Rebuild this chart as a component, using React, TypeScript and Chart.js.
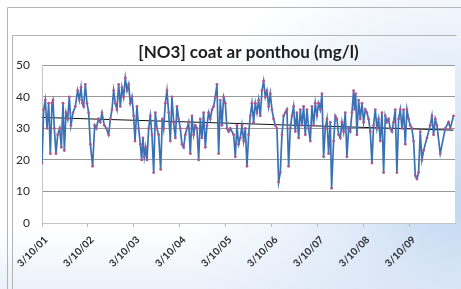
import React, { useEffect, useRef } from "react";
import { Chart, registerables } from "chart.js";

Chart.register(...registerables);

const TITLE = "[NO3] coat ar ponthou (mg/l)";
const xTickLabels = ["3/10/01", "3/10/02", "3/10/03", "3/10/04", "3/10/05", "3/10/06", "3/10/07", "3/10/08", "3/10/09"];
const yTicks = [0, 10, 20, 30, 40, 50];

// sample dates, in years after 3/10/01
const sampleYears = [
  0.0, 0.036, 0.072, 0.109, 0.145, 0.181, 0.217, 0.239, 0.268, 0.304, 0.341, 0.384, 0.42, 0.457, 0.486, 0.522, 0.558, 0.594, 0.63, 0.674,
  0.725, 0.775, 0.812, 0.848, 0.877, 0.906, 0.942, 0.978, 1.014, 1.051, 1.101, 1.145, 1.181, 1.225, 1.268, 1.304, 1.355, 1.399, 1.449, 1.486,
  1.522, 1.558, 1.594, 1.63, 1.667, 1.703, 1.739, 1.775, 1.812, 1.848, 1.884, 1.92, 1.957, 1.993, 2.022, 2.065, 2.101, 2.138, 2.167, 2.196,
  2.225, 2.254, 2.283, 2.319, 2.355, 2.391, 2.428, 2.464, 2.5, 2.536, 2.58, 2.616, 2.645, 2.681, 2.717, 2.754, 2.79, 2.826, 2.862, 2.899,
  2.935, 2.971, 3.007, 3.043, 3.08, 3.116, 3.152, 3.188, 3.225, 3.261, 3.297, 3.333, 3.37, 3.406, 3.442, 3.478, 3.514, 3.551, 3.587, 3.623,
  3.659, 3.696, 3.732, 3.768, 3.804, 3.841, 3.877, 3.913, 3.949, 3.986, 4.022, 4.058, 4.094, 4.167, 4.203, 4.239, 4.275, 4.312, 4.348, 4.384,
  4.42, 4.457, 4.493, 4.529, 4.565, 4.601, 4.638, 4.674, 4.71, 4.746, 4.783, 4.819, 4.855, 4.891, 4.928, 4.964, 5.0, 5.036, 5.072, 5.109,
  5.145, 5.181, 5.217, 5.254, 5.29, 5.326, 5.362, 5.399, 5.435, 5.471, 5.507, 5.543, 5.58, 5.616, 5.652, 5.688, 5.725, 5.761, 5.797, 5.833,
  5.87, 5.906, 5.942, 5.978, 6.014, 6.051, 6.087, 6.123, 6.159, 6.196, 6.232, 6.268, 6.297, 6.341, 6.377, 6.413, 6.449, 6.486, 6.522, 6.558,
  6.594, 6.63, 6.667, 6.703, 6.739, 6.775, 6.797, 6.819, 6.848, 6.884, 6.92, 6.957, 6.993, 7.029, 7.065, 7.101, 7.138, 7.174, 7.21, 7.246,
  7.283, 7.319, 7.355, 7.391, 7.428, 7.464, 7.5, 7.536, 7.572, 7.609, 7.645, 7.681, 7.717, 7.754, 7.79, 7.826, 7.862, 7.899, 7.935, 7.971,
  8.007, 8.043, 8.08, 8.116, 8.152, 8.188, 8.225, 8.261, 8.297, 8.37, 8.442, 8.478, 8.514, 8.551, 8.587, 8.659, 8.768, 8.841, 8.877, 8.949,
];

// [NO3] in mg/l
const no3Values = [
  19, 36, 39, 30, 38, 22, 38, 39, 30, 22, 28, 30, 24, 38, 23, 35, 33, 40, 31, 35,
  37, 42, 39, 43, 38, 37, 44, 38, 35, 25, 18, 31, 30, 33, 32, 35, 31, 30, 28, 33,
  36, 42, 38, 36, 44, 37, 43, 40, 46, 42, 44, 38, 40, 34, 26, 37, 30, 25, 20, 27,
  21, 24, 20, 30, 34, 28, 16, 35, 30, 28, 17, 33, 30, 38, 42, 35, 26, 40, 32, 27,
  37, 33, 30, 25, 24, 28, 30, 32, 22, 34, 28, 31, 30, 20, 33, 27, 35, 24, 31, 35,
  33, 36, 37, 40, 44, 22, 39, 31, 40, 38, 30, 29, 30, 28, 21, 31, 25, 27, 31, 26,
  30, 18, 28, 34, 38, 32, 38, 35, 39, 34, 42, 45, 40, 42, 37, 41, 36, 33, 31, 30,
  13, 16, 28, 34, 35, 36, 18, 30, 34, 37, 29, 35, 27, 36, 31, 37, 28, 36, 30, 26,
  37, 31, 38, 34, 38, 36, 41, 21, 30, 33, 22, 32, 11, 26, 34, 33, 28, 27, 32, 29,
  35, 21, 30, 29, 35, 42, 36, 41, 28, 39, 33, 38, 32, 36, 35, 33, 29, 19, 31, 36,
  30, 33, 26, 35, 16, 34, 32, 33, 30, 29, 32, 36, 16, 33, 36, 30, 36, 25, 36, 33,
  31, 30, 26, 15, 14, 16, 29, 20, 23, 27, 31, 34, 28, 33, 31, 22, 30, 32, 30, 34,
];

const framePlugin = {
  id: "frame",
  beforeDraw(chart: any) {
    const ctx = chart.ctx as CanvasRenderingContext2D;
    const w = chart.width;
    const h = chart.height;
    ctx.save();
    ctx.fillStyle = "#ffffff";
    ctx.fillRect(0, 0, w, h);
    const g = ctx.createRadialGradient(w, h * 0.7, 10, w, h * 0.7, 280);
    g.addColorStop(0, "rgba(170,200,235,0.7)");
    g.addColorStop(1, "rgba(200,220,245,0)");
    ctx.fillStyle = g;
    ctx.fillRect(0, 0, w, h);
    const g2 = ctx.createLinearGradient(0, 225, 0, h);
    g2.addColorStop(0, "rgba(215,228,245,0)");
    g2.addColorStop(1, "rgba(215,228,245,0.5)");
    ctx.fillStyle = g2;
    ctx.fillRect(0, 225, w, h - 225);
    ctx.strokeStyle = "#b4b4b4";
    ctx.lineWidth = 1;
    ctx.beginPath();
    ctx.moveTo(7.5, h);
    ctx.lineTo(7.5, 7.5);
    ctx.lineTo(w, 7.5);
    ctx.moveTo(12.5, h);
    ctx.lineTo(12.5, 35.5);
    ctx.lineTo(456.5, 35.5);
    ctx.stroke();
    const ca = chart.chartArea;
    ctx.fillStyle = "#ffffff";
    ctx.fillRect(ca.left, ca.top, ca.right - ca.left, ca.bottom - ca.top);
    ctx.restore();
  },
};

export default function App() {
  const ref = useRef<HTMLCanvasElement>(null);

  useEffect(() => {
    const n = sampleYears.length;
    let sx = 0, sy = 0, sxx = 0, sxy = 0;
    for (let i = 0; i < n; i++) {
      sx += sampleYears[i];
      sy += no3Values[i];
      sxx += sampleYears[i] * sampleYears[i];
      sxy += sampleYears[i] * no3Values[i];
    }
    const slope = (n * sxy - sx * sy) / (n * sxx - sx * sx);
    const intercept = (sy - slope * sx) / n;
    const x0 = sampleYears[0];
    const x1 = sampleYears[n - 1];

    const chart = new Chart(ref.current!, {
      type: "line",
      data: {
        datasets: [
          {
            data: sampleYears.map((x, i) => ({ x, y: no3Values[i] })),
            borderColor: "#3a71b5",
            borderWidth: 1.7,
            pointRadius: 1.4,
            pointBackgroundColor: "#b0588e",
            pointBorderWidth: 0,
            tension: 0,
          },
          {
            data: [
              { x: x0, y: intercept + slope * x0 },
              { x: x1, y: intercept + slope * x1 },
            ],
            borderColor: "#111111",
            borderWidth: 1,
            pointRadius: 0,
            tension: 0,
          },
        ],
      },
      options: {
        responsive: false,
        animation: false,
        layout: { padding: { left: 14, right: 6, top: 38, bottom: 0 } },
        plugins: {
          legend: { display: false },
          tooltip: { enabled: false },
          title: {
            display: true,
            fullSize: false,
            text: TITLE,
            color: "#1e1e1e",
            font: { family: "Lato", size: 17, weight: "bold" },
            padding: { top: 4, bottom: 3 },
          },
        },
        scales: {
          x: {
            type: "linear",
            min: 0,
            max: 8.98,
            afterBuildTicks: (s: any) => {
              s.ticks = xTickLabels.map((_, i) => ({ value: i }));
            },
            afterFit: (s: any) => {
              s.height = 66;
            },
            ticks: {
              autoSkip: false,
              minRotation: 45,
              maxRotation: 45,
              padding: 7,
              labelOffset: 4,
              color: "#2a2a2a",
              font: { family: "Lato", size: 10, weight: "bold" },
              callback: (v: any) => xTickLabels[Math.round(Number(v))] ?? "",
            },
            grid: { drawOnChartArea: false, drawTicks: true, tickLength: 4, color: "#bdbdbd" },
            border: { color: "#c4c4c4" },
          },
          y: {
            min: 0,
            max: 50,
            afterBuildTicks: (s: any) => {
              s.ticks = yTicks.map((v) => ({ value: v }));
            },
            afterFit: (s: any) => {
              s.width = 28;
            },
            ticks: {
              padding: 12,
              color: "#2a2a2a",
              font: { family: "Lato", size: 12 },
            },
            grid: { color: "#9a9a9a", drawTicks: false },
            border: { color: "#c4c4c4" },
          },
        },
      },
      plugins: [framePlugin],
    });
    return () => chart.destroy();
  }, []);

  return (
    <canvas
      ref={ref}
      width={461}
      height={289}
      style={{ position: "fixed", left: 0, top: 0, display: "block", width: 461, height: 289 }}
    />
  );
}
